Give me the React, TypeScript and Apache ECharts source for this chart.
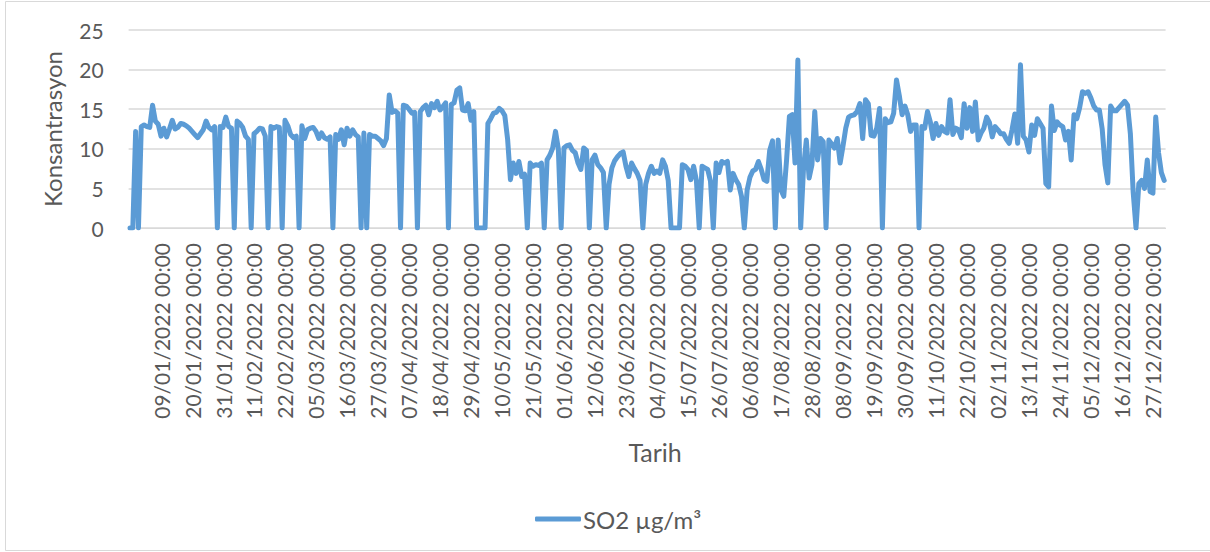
import React, { useEffect, useRef } from "react";
import * as echarts from "echarts";

// Category axis: daily dates from 29/12/2021 to 31/12/2022
const START_DATE = { year: 2021, month: 12, day: 29 };
const DAY_COUNT = 368;
const pad2 = (n: number) => (n < 10 ? "0" + n : String(n));
const dates: string[] = (() => {
  const out: string[] = [];
  const d = new Date(Date.UTC(START_DATE.year, START_DATE.month - 1, START_DATE.day));
  for (let i = 0; i < DAY_COUNT; i++) {
    out.push(`${pad2(d.getUTCDate())}/${pad2(d.getUTCMonth() + 1)}/${d.getUTCFullYear()} 00:00`);
    d.setUTCDate(d.getUTCDate() + 1);
  }
  return out;
})();

// SO2 daily values (µg/m³)
const so2Values: number[] = [
  0, 0, 12.2, 0, 12.8, 13.0, 12.8, 12.7, 15.5, 13.5,
  13.1, 11.6, 12.6, 11.5, 12.5, 13.6, 12.5, 12.7, 13.2, 13.1,
  12.9, 12.6, 12.2, 11.8, 11.4, 11.9, 12.4, 13.5, 12.7, 12.4,
  12.8, 0, 12.8, 12.7, 14.0, 12.8, 12.6, 0, 13.5, 13.2,
  12.7, 11.6, 11.2, 0, 11.9, 12.2, 12.6, 12.5, 11.6, 0,
  12.8, 12.6, 12.8, 12.7, 0, 13.6, 12.9, 11.8, 11.4, 11.6,
  0, 12.9, 11.3, 12.4, 12.6, 12.7, 12.2, 11.3, 12.0, 11.4,
  11.2, 11.5, 0, 11.8, 11.2, 12.4, 10.5, 12.6, 11.6, 12.4,
  11.8, 11.5, 0, 12.0, 0, 11.8, 11.6, 11.6, 11.3, 11.0,
  10.4, 11.3, 16.8, 14.6, 14.8, 14.5, 0, 15.5, 15.4, 15.0,
  14.5, 14.6, 0, 14.7, 15.2, 15.5, 14.3, 15.7, 15.2, 16.0,
  14.9, 15.3, 15.8, 0, 15.6, 15.8, 17.4, 17.7, 14.9, 14.8,
  15.7, 13.6, 14.7, 0, 0, 0, 0, 13.2, 13.8, 14.5,
  14.6, 15.1, 14.8, 14.2, 11.2, 6.1, 8.2, 6.9, 8.4, 6.5,
  6.8, 0, 8.2, 7.8, 8.0, 7.9, 8.2, 0, 8.6, 9.2,
  10.1, 12.2, 10.0, 0, 10.1, 10.4, 10.5, 9.8, 9.5, 8.2,
  7.4, 10.1, 9.8, 0, 8.6, 9.2, 8.0, 7.6, 7.0, 0,
  5.5, 7.6, 8.5, 9.0, 9.4, 9.6, 7.8, 6.5, 8.2, 7.5,
  6.9, 6.0, 0, 5.5, 6.9, 7.8, 6.9, 7.2, 6.9, 8.6,
  7.8, 6.0, 0, 0, 0, 0, 8.0, 7.8, 7.4, 6.1,
  7.8, 6.0, 0, 7.8, 7.6, 7.4, 5.9, 0, 8.2, 7.0,
  8.4, 8.2, 8.4, 4.8, 6.9, 6.1, 5.5, 4.0, 0, 4.8,
  6.4, 7.2, 7.4, 8.4, 7.4, 6.1, 5.9, 9.8, 11.0, 0,
  11.1, 4.8, 4.0, 8.6, 14.1, 14.3, 8.2, 21.2, 0, 7.5,
  11.1, 6.3, 8.0, 14.7, 8.6, 11.3, 10.9, 0, 11.1, 10.6,
  10.1, 11.3, 8.2, 10.3, 12.6, 14.0, 14.2, 14.3, 14.7, 15.7,
  11.3, 16.2, 15.7, 11.7, 11.6, 12.6, 15.1, 0, 13.8, 13.3,
  13.4, 14.5, 18.7, 16.7, 14.3, 15.4, 14.3, 12.2, 13.0, 13.0,
  0, 12.8, 12.6, 14.7, 13.4, 11.3, 13.2, 11.7, 12.8, 12.2,
  12.0, 16.2, 11.8, 12.6, 12.4, 11.4, 15.7, 12.6, 15.2, 12.2,
  15.9, 11.1, 12.0, 12.6, 14.0, 13.3, 11.5, 12.8, 12.4, 11.9,
  11.9, 11.2, 10.7, 12.4, 14.4, 10.7, 20.6, 11.6, 11.1, 9.6,
  13.0, 11.7, 13.8, 13.2, 12.6, 5.6, 5.2, 15.4, 12.3, 13.4,
  13.0, 12.8, 11.1, 12.2, 8.6, 14.3, 13.8, 15.2, 17.2, 17.0,
  17.2, 16.4, 15.4, 14.9, 14.9, 12.5, 8.0, 5.7, 15.4, 14.8,
  14.8, 15.2, 15.6, 16.0, 15.5, 11.9, 4.5, 0, 5.6, 6.0,
  5.0, 8.6, 4.6, 4.4, 14.0, 9.5, 7.0, 6.0,
];

const SERIES_NAME = "SO2 µg/m³";
const X_AXIS_TITLE = "Tarih";
const Y_AXIS_TITLE = "Konsantrasyon";
const Y_MIN = 0;
const Y_MAX = 25;
const Y_INTERVAL = 5;
const LABEL_EVERY = 11;

const FONT = "Lato, 'Open Sans', sans-serif";
const TEXT_COLOR = "#595959";
const GRID_COLOR = "#D9D9D9";
const LINE_COLOR = "#5B9BD5";

export default function App() {
  const ref = useRef<HTMLDivElement>(null);

  useEffect(() => {
    document.body.style.margin = "0";
    if (!ref.current) return;
    const chart = echarts.init(ref.current, undefined, { renderer: "svg" });
    chart.setOption({
      animation: false,
      backgroundColor: "#ffffff",
      textStyle: { fontFamily: FONT },
      graphic: [
        {
          type: "rect",
          shape: { x: 5.5, y: 1.5, width: 1230, height: 549 },
          style: { fill: "none", stroke: GRID_COLOR, lineWidth: 1 },
          silent: true,
          z: -1,
        },
      ],
      grid: { left: 128.6, top: 30, width: 1037, height: 198, containLabel: false },
      legend: {
        left: 530,
        top: 502,
        icon: "roundRect",
        itemWidth: 46,
        itemHeight: 5,
        itemGap: 10,
        textStyle: { color: TEXT_COLOR, fontSize: 24, fontFamily: FONT, padding: [0, 0, 0, -3] },
        data: [SERIES_NAME],
      },
      xAxis: {
        type: "category",
        data: dates,
        boundaryGap: true,
        name: X_AXIS_TITLE,
        nameLocation: "middle",
        nameGap: 211,
        nameTextStyle: { color: TEXT_COLOR, fontSize: 25, fontFamily: FONT, padding: [0, 0, 0, 16] },
        axisLine: { show: true, lineStyle: { color: GRID_COLOR, width: 1 } },
        axisTick: { show: false },
        axisLabel: {
          rotate: 90,
          margin: 15,
          color: TEXT_COLOR,
          fontSize: 21,
          fontFamily: FONT,
          interval: (index: number) => index > 0 && index % LABEL_EVERY === 0,
        },
        splitLine: { show: false },
      },
      yAxis: {
        type: "value",
        min: Y_MIN,
        max: Y_MAX,
        interval: Y_INTERVAL,
        name: Y_AXIS_TITLE,
        nameLocation: "middle",
        nameGap: 64,
        nameTextStyle: { color: TEXT_COLOR, fontSize: 24, fontFamily: FONT },
        axisLine: { show: false },
        axisTick: { show: false },
        axisLabel: { color: TEXT_COLOR, fontSize: 21, fontFamily: FONT, margin: 25 },
        splitLine: { show: true, lineStyle: { color: GRID_COLOR, width: 1.5 } },
      },
      series: [
        {
          name: SERIES_NAME,
          type: "line",
          data: so2Values,
          symbol: "none",
          color: LINE_COLOR,
          lineStyle: { color: LINE_COLOR, width: 5, join: "round", cap: "round" },
        },
      ],
    });
    return () => chart.dispose();
  }, []);

  return <div ref={ref} style={{ width: 1210, height: 552 }} />;
}
